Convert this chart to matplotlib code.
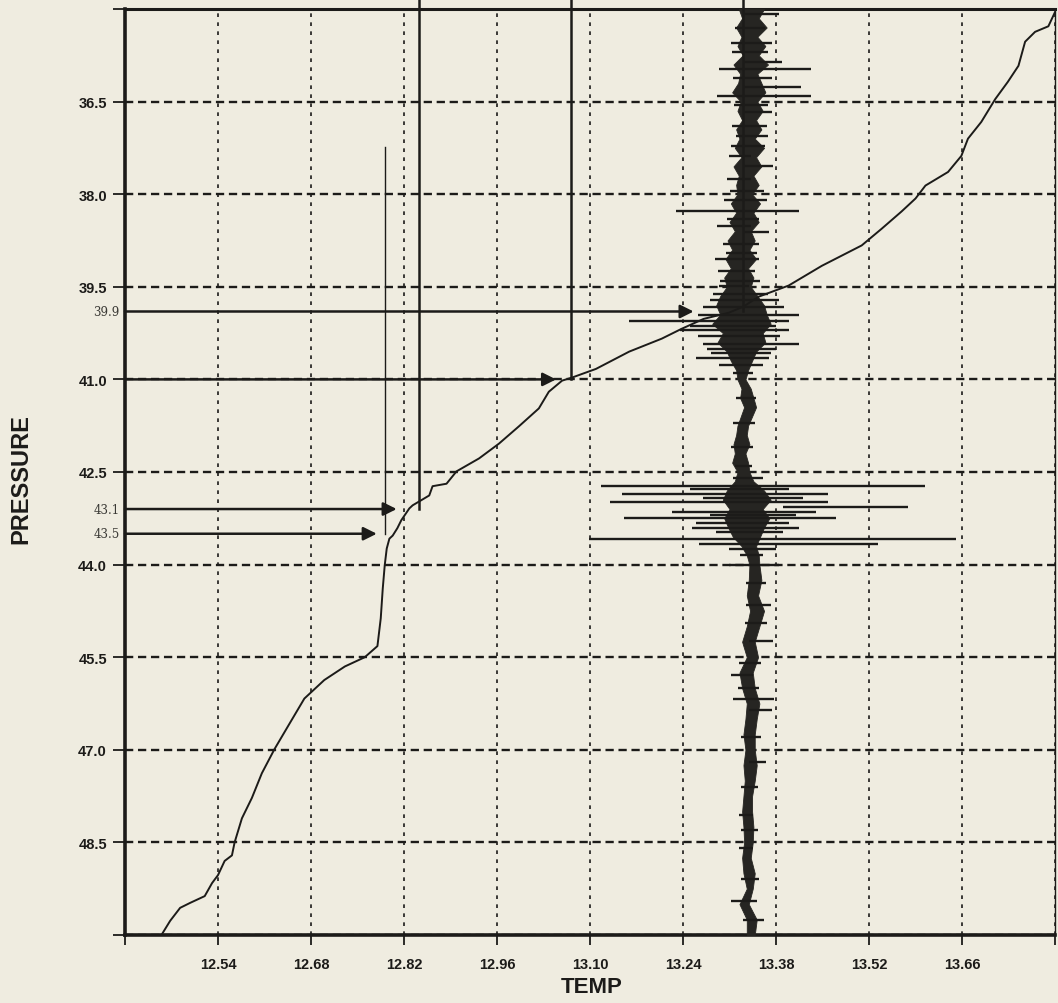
import matplotlib
matplotlib.use("Agg")
import matplotlib.pyplot as plt
import matplotlib.transforms as mtransforms
from matplotlib.font_manager import FontProperties

# ---------------- data ----------------
x_ticks = [12.40, 12.54, 12.68, 12.82, 12.96, 13.10, 13.24, 13.38, 13.52, 13.66, 13.80]
x_labels = ["", "12.54", "12.68", "12.82", "12.96", "13.10", "13.24", "13.38", "13.52", "13.66", ""]
y_ticks = [35.0, 36.5, 38.0, 39.5, 41.0, 42.5, 44.0, 45.5, 47.0, 48.5, 50.0]
y_labels = ["", "36.5", "38.0", "39.5", "41.0", "42.5", "44.0", "45.5", "47.0", "48.5", ""]

# temperature profile (pressure, temperature)
prof_p = [49.98, 49.77, 49.56, 49.48, 49.37, 49.16, 49.03, 48.80, 48.71, 48.50, 48.11, 47.78,
          47.38, 46.99, 46.57, 46.17, 45.87, 45.65, 45.50, 45.32, 44.87, 44.39, 44.01, 43.74,
          43.58, 43.53, 43.41, 43.28, 43.09, 43.04, 42.88, 42.73, 42.69, 42.49, 42.28, 42.04,
          41.76, 41.47, 41.20, 41.02, 40.97, 40.83, 40.55, 40.34, 40.18, 40.02, 39.92, 39.82,
          39.66, 39.48, 39.16, 38.83, 38.56, 38.28, 38.07, 37.86, 37.64, 37.38, 37.10, 36.83,
          36.46, 36.18, 35.92, 35.53, 35.37, 35.28, 35.05]
prof_t = [12.456, 12.468, 12.483, 12.498, 12.520, 12.531, 12.540, 12.550, 12.561, 12.565, 12.576, 12.591,
          12.606, 12.625, 12.648, 12.670, 12.700, 12.731, 12.761, 12.780, 12.785, 12.788, 12.791, 12.794,
          12.798, 12.803, 12.810, 12.816, 12.828, 12.833, 12.858, 12.863, 12.884, 12.899, 12.933, 12.963,
          12.993, 13.023, 13.038, 13.058, 13.073, 13.109, 13.159, 13.208, 13.238, 13.271, 13.309, 13.331,
          13.354, 13.399, 13.449, 13.509, 13.539, 13.569, 13.590, 13.605, 13.639, 13.659, 13.669, 13.689,
          13.710, 13.729, 13.745, 13.755, 13.770, 13.790, 13.800]

# second (noisy) trace: envelope
trace_p = [35.0, 35.15, 35.3, 35.45, 35.6, 35.75, 35.9, 36.05, 36.2, 36.35, 36.5, 36.65, 36.8, 36.95,
           37.1, 37.25, 37.4, 37.55, 37.7, 37.85, 38.0, 38.15, 38.3, 38.45, 38.6, 38.75, 38.9, 39.05,
           39.2, 39.35, 39.5, 39.65, 39.8, 39.95, 40.1, 40.25, 40.4, 40.55, 40.7, 40.85, 41.0, 41.15,
           41.3, 41.45, 41.6, 41.75, 41.9, 42.05, 42.2, 42.35, 42.5, 42.65, 42.8, 42.95, 43.1, 43.25,
           43.4, 43.55, 43.7, 43.85, 44.0, 44.25, 44.5, 44.75, 45.0, 45.25, 45.5, 45.75, 46.0, 46.25,
           46.5, 46.75, 47.0, 47.25, 47.5, 47.75, 48.0, 48.25, 48.5, 48.75, 49.0, 49.25, 49.5, 49.75, 50.0]
trace_lo = [13.324, 13.329, 13.320, 13.328, 13.322, 13.330, 13.316, 13.326, 13.323, 13.314, 13.327, 13.322,
            13.329, 13.320, 13.325, 13.318, 13.328, 13.316, 13.324, 13.320, 13.322, 13.312, 13.320, 13.310,
            13.318, 13.307, 13.314, 13.304, 13.312, 13.302, 13.306, 13.296, 13.290, 13.296, 13.284, 13.300,
            13.292, 13.306, 13.312, 13.320, 13.322, 13.328, 13.326, 13.332, 13.327, 13.322, 13.320, 13.316,
            13.318, 13.314, 13.322, 13.318, 13.306, 13.300, 13.310, 13.302, 13.308, 13.315, 13.328, 13.336,
            13.340, 13.339, 13.336, 13.341, 13.336, 13.329, 13.336, 13.325, 13.329, 13.336, 13.334, 13.331,
            13.334, 13.331, 13.333, 13.331, 13.329, 13.331, 13.332, 13.329, 13.331, 13.336, 13.325, 13.336, 13.336]
trace_hi = [13.362, 13.354, 13.366, 13.352, 13.364, 13.354, 13.368, 13.352, 13.358, 13.364, 13.352, 13.360,
            13.350, 13.358, 13.348, 13.362, 13.350, 13.358, 13.346, 13.354, 13.344, 13.356, 13.346, 13.354,
            13.342, 13.348, 13.340, 13.350, 13.338, 13.346, 13.342, 13.352, 13.362, 13.366, 13.372, 13.360,
            13.364, 13.350, 13.344, 13.338, 13.334, 13.342, 13.346, 13.350, 13.344, 13.338, 13.336, 13.340,
            13.334, 13.338, 13.340, 13.346, 13.362, 13.372, 13.360, 13.370, 13.362, 13.356, 13.350, 13.354,
            13.355, 13.358, 13.353, 13.362, 13.355, 13.348, 13.353, 13.345, 13.348, 13.355, 13.351, 13.348,
            13.348, 13.351, 13.348, 13.344, 13.344, 13.346, 13.345, 13.342, 13.348, 13.345, 13.339, 13.351, 13.348]

# spikes of the noisy trace: pressure, left, right
spike_p = [35.08, 35.30, 35.55, 35.70, 35.86, 35.97, 36.12, 36.26, 36.41, 36.55, 36.67, 36.90, 37.05,
           37.22, 37.38, 37.54, 37.75, 37.95, 38.10, 38.27, 38.40, 38.51, 38.61, 38.80, 38.95, 39.05,
           39.25, 39.40, 39.48, 39.62, 39.72, 39.82, 39.95, 40.06, 40.13, 40.20, 40.30, 40.42, 40.50,
           40.58, 40.66, 40.76, 40.90, 41.30, 41.70, 42.10, 42.40, 42.60,
           42.72, 42.78, 42.85, 42.92, 42.98, 43.06, 43.14, 43.20, 43.25, 43.33, 43.41, 43.48, 43.58,
           43.66, 43.74, 43.85,
           44.01, 44.30, 44.66, 44.95, 45.24, 45.60, 45.79, 46.00, 46.17, 46.36, 46.80, 47.19, 47.60,
           48.06, 48.30, 48.59, 49.10, 49.45, 49.76]
spike_lo = [13.330, 13.318, 13.312, 13.314, 13.330, 13.294, 13.316, 13.330, 13.291, 13.317, 13.330, 13.314, 13.320,
            13.312, 13.309, 13.330, 13.306, 13.310, 13.302, 13.229, 13.306, 13.291, 13.330, 13.300, 13.304, 13.288,
            13.292, 13.296, 13.294, 13.285, 13.280, 13.270, 13.262, 13.159, 13.250, 13.235, 13.262, 13.270, 13.276,
            13.282, 13.260, 13.294, 13.316, 13.320, 13.316, 13.312, 13.318, 13.316,
            13.117, 13.250, 13.148, 13.270, 13.130, 13.390, 13.223, 13.280, 13.151, 13.260, 13.253, 13.290, 13.099,
            13.264, 13.309, 13.326,
            13.309, 13.335, 13.335, 13.333, 13.340, 13.325, 13.312, 13.323, 13.316, 13.340, 13.327, 13.340, 13.327,
            13.324, 13.327, 13.324, 13.327, 13.312, 13.330]
spike_lo = spike_lo
spike_hi = [13.384, 13.364, 13.374, 13.368, 13.389, 13.432, 13.374, 13.417, 13.432, 13.368, 13.374, 13.366, 13.368,
            13.364, 13.342, 13.376, 13.342, 13.362, 13.366, 13.414, 13.354, 13.342, 13.369, 13.354, 13.352, 13.354,
            13.348, 13.356, 13.340, 13.368, 13.385, 13.392, 13.414, 13.400, 13.380, 13.400, 13.386, 13.414, 13.380,
            13.372, 13.370, 13.360, 13.346, 13.350, 13.348, 13.346, 13.344, 13.360,
            13.605, 13.400, 13.459, 13.420, 13.459, 13.579, 13.440, 13.410, 13.470, 13.400, 13.414, 13.390, 13.651,
            13.534, 13.380, 13.360,
            13.384, 13.365, 13.373, 13.367, 13.375, 13.357, 13.345, 13.355, 13.377, 13.374, 13.357, 13.365, 13.353,
            13.345, 13.353, 13.345, 13.355, 13.351, 13.362]

# annotations
ann_p = [39.9, 41.0, 43.1, 43.5]
ann_tip = [13.256, 13.049, 12.809, 12.779]
ann_vline = [13.330, 13.072, 12.842, 12.791]
ann_vtop = [34.84, 34.84, 34.84, 37.23]
ann_text = ["39.9", None, "43.1", "43.5"]

# ---------------- style ----------------
ink = "#1c1b19"
bg = "#efece0"

fig = plt.figure(figsize=(10.58, 10.04), dpi=100, facecolor=bg)
ax = fig.add_axes([125 / 1058, 1 - 936 / 1004, 930 / 1058, 926 / 1004], facecolor=bg)

ax.set_xlim(x_ticks[0], x_ticks[-1])
ax.set_ylim(y_ticks[-1], y_ticks[0])

ax.set_xticks(x_ticks)
ax.set_xticklabels(x_labels)
ax.set_yticks(y_ticks)
ax.set_yticklabels(y_labels)

fp = FontProperties(family="Liberation Sans", weight="bold", size=10.5)
for lab in ax.get_xticklabels() + ax.get_yticklabels():
    lab.set_fontproperties(fp)
    lab.set_color(ink)
offset = mtransforms.ScaledTranslation(6 / 100, 0, fig.dpi_scale_trans)
for lab in ax.get_xticklabels():
    lab.set_transform(lab.get_transform() + offset)

ax.tick_params(axis="both", direction="out", length=7, width=1.3, colors=ink)
ax.tick_params(axis="x", pad=9)
ax.tick_params(axis="y", length=9, pad=4)

ax.xaxis.grid(True, linestyle=(0, (2.2, 3.2)), linewidth=1.2, color=ink)
ax.yaxis.grid(True, linestyle=(0, (3.5, 2.0)), linewidth=1.7, color=ink)
ax.set_axisbelow(True)

for side, lw in [("left", 2.6), ("bottom", 2.6), ("top", 2.2), ("right", 1.0)]:
    ax.spines[side].set_linewidth(lw)
    ax.spines[side].set_color(ink)

# noisy trace
ax.fill_betweenx(trace_p, trace_lo, trace_hi, color="#262522", lw=0.6, zorder=3)
ax.hlines(spike_p, spike_lo, spike_hi, color=ink, lw=1.7, zorder=3)

# profile
ax.plot(prof_t, prof_p, color=ink, lw=1.4, zorder=4)

# annotation lines / arrows
for p, tip, xv, top, txt in zip(ann_p, ann_tip, ann_vline, ann_vtop, ann_text):
    lw_v = 1.0 if top > 35.5 else 1.8
    ax.plot([xv, xv], [top, p], color=ink, lw=lw_v, clip_on=False, zorder=5)
    ax.annotate("", xy=(tip, p), xytext=(x_ticks[0], p),
                arrowprops=dict(arrowstyle="-|>", lw=1.8, color=ink,
                                mutation_scale=20, shrinkA=0, shrinkB=0),
                zorder=6)
    if txt:
        ax.text(-0.006, p, txt, transform=ax.get_yaxis_transform(), ha="right", va="center",
                fontsize=8.5, family="DejaVu Serif", color="#3a3935")

fig.text(592 / 1058, 1 - 988 / 1004, "TEMP", ha="center", va="center",
         family="Liberation Sans", weight="bold", fontsize=16, color=ink)
fig.text(21 / 1058, 1 - 479 / 1004, "PRESSURE", ha="center", va="center", rotation=90,
         family="Liberation Sans", weight="bold", fontsize=17, color=ink)

fig.savefig("out.png", dpi=100, facecolor=bg)
